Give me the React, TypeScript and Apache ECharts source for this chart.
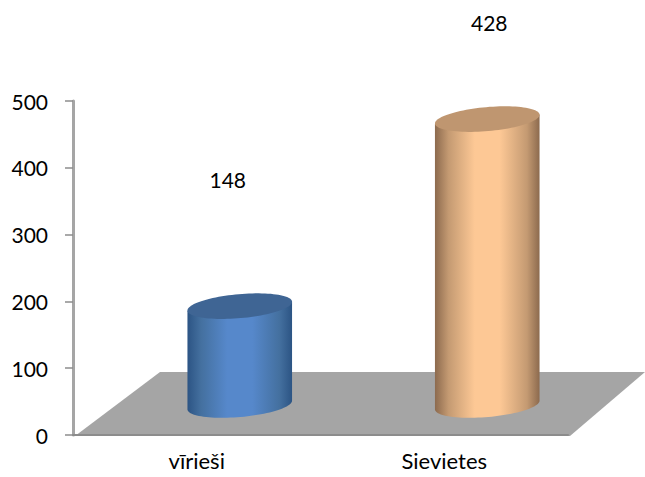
import React, { useEffect, useRef } from "react";
import * as echarts from "echarts";

const categories = ["vīrieši", "Sievietes"];
const values = [148, 428];
const yTicks = [0, 100, 200, 300, 400, 500];

// colours: edge, mid, centre, lid
const palettes = [
  { edge: "#2c5484", mid: "#44709f", centre: "#5688cb", lid: "#3f6594" },
  { edge: "#8c6a4e", mid: "#c49a72", centre: "#fdc895", lid: "#bf9670" },
];
const labelShift = [
  [31, -157],
  [45, -127],
];

const FONT = "Lato";
const DX = 43; // depth shift of the cylinders
const DY = -30;
const RX = 52.5;
const RY = 12;
const TILT = 5 * (Math.PI / 180);

// one point of the tilted ellipse of a cylinder's end
function rimPoint(cx: number, cy: number, t: number) {
  const px = RX * Math.cos(t);
  const py = RY * Math.sin(t);
  return [cx + px * Math.cos(TILT) + py * Math.sin(TILT), cy - px * Math.sin(TILT) + py * Math.cos(TILT)];
}

function renderFloor(params: any) {
  const { x, y, width, height } = params.coordSys;
  const b = y + height + 1;
  return {
    type: "polygon",
    silent: true,
    shape: {
      points: [
        [x + 2, b],
        [x + 87, b - 64],
        [x + 572, b - 64],
        [x + width + 2, b],
      ],
    },
    style: { fill: "#a5a5a5" },
  };
}

function renderCylinder(params: any, api: any) {
  const idx = params.dataIndex;
  const base = api.coord([api.value(0), 0]);
  const top = api.coord([api.value(0), api.value(1)]);
  const cx = base[0] + DX;
  const by = base[1] + DY;
  const ty = top[1] + DY;
  const p = palettes[idx];
  const steps = 48;
  const bodyPts: number[][] = [];
  const lidPts: number[][] = [];
  for (let i = 0; i <= steps; i++) {
    bodyPts.push(rimPoint(cx, by, Math.PI - (i / steps) * Math.PI));
  }
  bodyPts.push(rimPoint(cx, ty, 0), rimPoint(cx, ty, Math.PI));
  for (let i = 0; i < steps * 2; i++) {
    lidPts.push(rimPoint(cx, ty, (i / steps) * Math.PI));
  }
  return {
    type: "group",
    children: [
      {
        type: "polygon",
        shape: { points: bodyPts },
        style: {
          fill: new echarts.graphic.LinearGradient(0, 0, 1, 0, [
            { offset: 0, color: p.edge },
            { offset: 0.13, color: p.mid },
            { offset: 0.38, color: p.centre },
            { offset: 0.62, color: p.centre },
            { offset: 0.88, color: p.mid },
            { offset: 1, color: p.edge },
          ]),
        },
      },
      { type: "polygon", shape: { points: lidPts }, style: { fill: p.lid } },
      {
        type: "text",
        x: base[0] + labelShift[idx][0],
        y: top[1] + labelShift[idx][1],
        style: {
          text: String(api.value(1)),
          fill: "#000",
          font: `21px ${FONT}`,
          align: "center",
          verticalAlign: "middle",
        },
      },
    ],
  };
}

export default function App() {
  const ref = useRef<HTMLDivElement>(null);
  useEffect(() => {
    const chart = echarts.init(ref.current!, undefined, { renderer: "svg" });
    chart.setOption({
      animation: false,
      backgroundColor: "#fff",
      grid: { left: 73, top: 101, width: 495, height: 334 },
      xAxis: {
        type: "category",
        data: categories,
        z: 5,
        axisLine: { lineStyle: { color: "#8c8c8c", width: 2 } },
        axisTick: { length: 7, lineStyle: { color: "#8c8c8c", width: 1.5 } },
        axisLabel: { color: "#000", fontFamily: FONT, fontSize: 22, margin: 14 },
      },
      yAxis: {
        type: "value",
        min: yTicks[0],
        max: yTicks[yTicks.length - 1],
        interval: yTicks[1] - yTicks[0],
        z: 5,
        splitLine: { show: false },
        axisLine: { show: true, lineStyle: { color: "#a5a5a5", width: 3 } },
        axisTick: { show: true, length: 8, lineStyle: { color: "#8c8c8c", width: 1.5 } },
        axisLabel: { color: "#000", fontFamily: FONT, fontSize: 21, margin: 25, padding: [10, 0, 0, 0] },
      },
      series: [
        {
          type: "custom",
          name: "floor",
          renderItem: renderFloor,
          data: [[0, 0]],
          clip: false,
          silent: true,
          z: 1,
        },
        {
          type: "custom",
          name: "cylinders",
          renderItem: renderCylinder,
          data: values.map((v, i) => [i, v]),
          encode: { x: 0, y: 1 },
          clip: false,
          z: 3,
        },
      ],
    });
    return () => chart.dispose();
  }, []);
  return <div ref={ref} style={{ position: "fixed", left: 0, top: 0, width: 645, height: 477 }} />;
}
